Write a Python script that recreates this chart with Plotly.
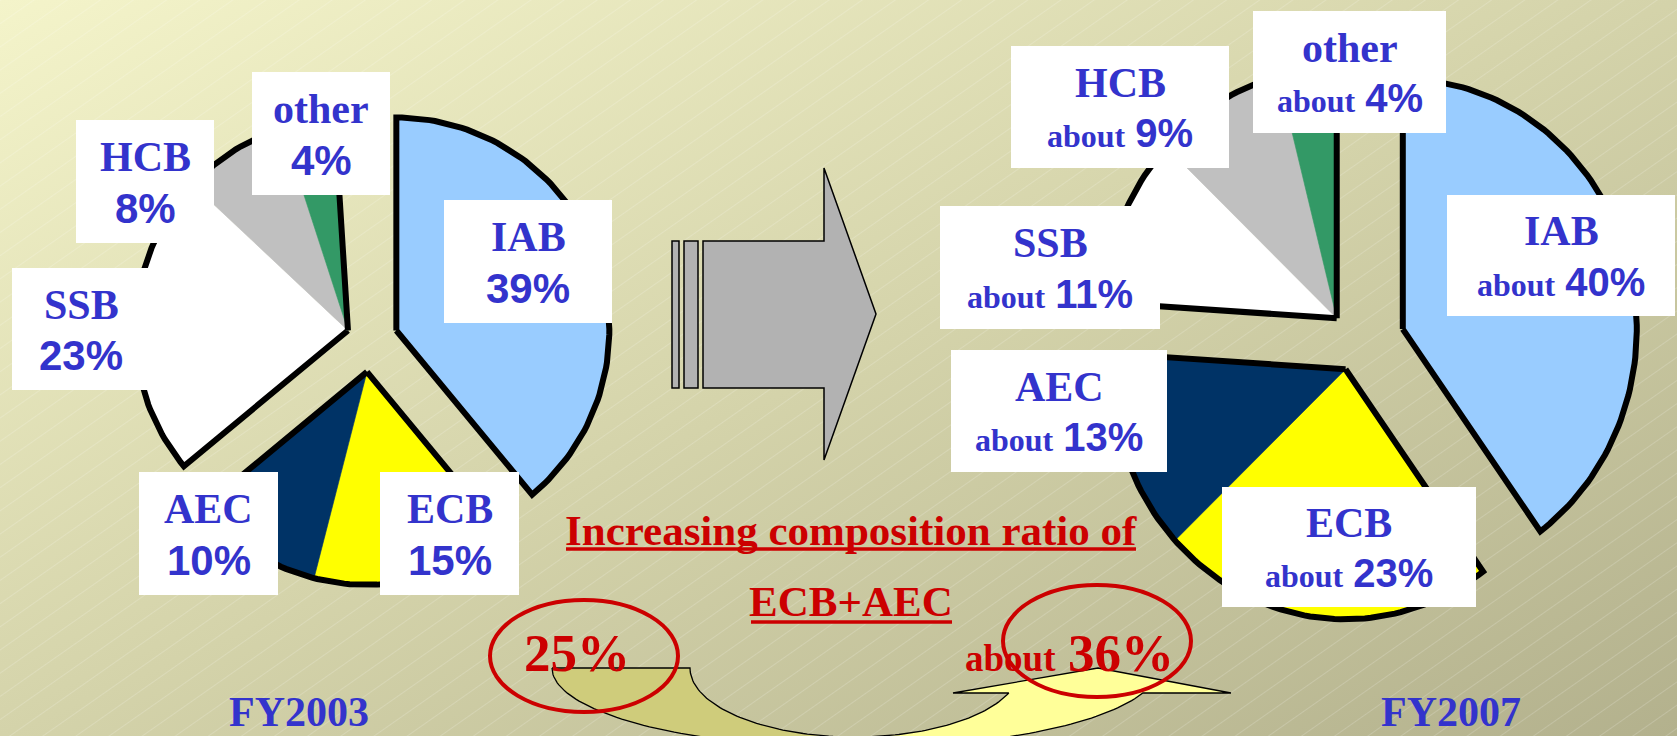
import base64
import numpy as np
import plotly.graph_objects as go

W, H = 1677, 736

# ---- data -------------------------------------------------------------
segments = ["IAB", "ECB", "AEC", "SSB", "HCB", "other"]
seg_colors = ["#99ccff", "#ffff00", "#003366", "#ffffff", "#c0c0c0", "#339966"]
share_fy2003 = [39, 15, 10, 23, 8, 4]
share_fy2007 = [40, 23, 13, 11, 9, 4]
years = ["FY2003", "FY2007"]
value_prefix = ["", "about "]
# slices that are pulled out of the pie together
explode_groups = [[0], [1, 2], [3, 4, 5]]
combined_names = ["ECB", "AEC"]

# ---- layout constants (pixel space) ----------------------------------
BLUE = "#3333cc"
RED = "#cc0000"
SERIF = "Liberation Serif"
SANS = "Liberation Sans"

pie_layout = [
    dict(cx=370, cy=340, rx=213, ry=213, pulls=[28, 32, 24]),
    dict(cx=1360, cy=343, rx=234, ry=250, pulls=[45, 30, 34]),
]
label_boxes = [
    [(444, 200, 612, 323), (380, 472, 519, 595), (139, 472, 278, 595),
     (12, 268, 150, 390), (76, 120, 214, 243), (252, 72, 390, 195)],
    [(1447, 195, 1675, 316), (1222, 487, 1476, 607), (951, 350, 1167, 472),
     (940, 206, 1160, 329), (1011, 46, 1229, 168), (1253, 11, 1446, 133)],
]
year_pos = [(299, 712), (1451, 712)]

fig = go.Figure()

# ---- background: diagonal gradient with faint hatching ----------------
bg_svg = f"""<svg xmlns='http://www.w3.org/2000/svg' width='{W}' height='{H}'>
<defs>
<linearGradient id='g' x1='0' y1='0' x2='1' y2='1'>
<stop offset='0' stop-color='#f4f4ca'/>
<stop offset='0.5' stop-color='#d4d3aa'/>
<stop offset='1' stop-color='#b3b18d'/>
</linearGradient>
<pattern id='h' width='19' height='19' patternUnits='userSpaceOnUse' patternTransform='rotate(55)'>
<line x1='0' y1='0' x2='0' y2='19' stroke='#ffffff' stroke-opacity='0.35' stroke-width='1'/>
</pattern>
</defs>
<rect width='{W}' height='{H}' fill='url(#g)'/>
<rect width='{W}' height='{H}' fill='url(#h)'/>
</svg>"""
bg_uri = "data:image/svg+xml;base64," + base64.b64encode(bg_svg.encode()).decode()


def arc_points(cx, cy, rx, ry, a0, a1):
    """Points along an elliptical arc, angles in degrees clockwise from 12 o'clock."""
    n = max(int(abs(a1 - a0) / 1.5) + 2, 3)
    t = np.radians(np.linspace(a0, a1, n))
    return cx + rx * np.sin(t), cy - ry * np.cos(t)


def wedge(cx, cy, rx, ry, a0, a1):
    ax, ay = arc_points(cx, cy, rx, ry, a0, a1)
    return (np.concatenate([[cx], ax, [cx]]), np.concatenate([[cy], ay, [cy]]))


# ---- exploded pies ----------------------------------------------------
for values, geo in zip([share_fy2003, share_fy2007], pie_layout):
    ends = np.cumsum(values) / 100.0 * 360.0
    starts = ends - np.asarray(values) / 100.0 * 360.0
    outlines = []
    for grp, pull in zip(explode_groups, geo["pulls"]):
        g0, g1 = starts[grp[0]], ends[grp[-1]]
        mid = np.radians((g0 + g1) / 2)
        gx = geo["cx"] + pull * np.sin(mid)
        gy = geo["cy"] - pull * np.cos(mid)
        for i in grp:
            xs, ys = wedge(gx, gy, geo["rx"], geo["ry"], starts[i], ends[i])
            fig.add_trace(go.Scatter(
                x=xs, y=ys, mode="lines", fill="toself",
                fillcolor=seg_colors[i], line=dict(color=seg_colors[i], width=0.6),
                hoverinfo="skip", name=segments[i]))
        outlines.append(wedge(gx, gy, geo["rx"], geo["ry"], g0, g1))
    for xs, ys in outlines:
        fig.add_trace(go.Scatter(
            x=xs, y=ys, mode="lines", line=dict(color="black", width=6),
            hoverinfo="skip"))

# ---- curved "up" arrow under the composition text ---------------------
ccx, ccy = 855, 668
orx, ory, irx, iry = 303, 80, 165, 69


def band(t0, t1):
    t = np.radians(np.linspace(t0, t1, 60))
    ox, oy = ccx + orx * np.cos(t), ccy + ory * np.sin(t)
    tb = t[::-1]
    ix, iy = ccx + irx * np.cos(tb), ccy + iry * np.sin(tb)
    return np.concatenate([ox, ix, ox[:1]]), np.concatenate([oy, iy, oy[:1]])


bx, by = band(180, 90)
fig.add_trace(go.Scatter(x=bx, y=by, mode="lines", fill="toself", fillcolor="#cfcc7b",
                         line=dict(color="black", width=1.3), hoverinfo="skip"))
t_out = np.degrees(np.arcsin(25 / ory))
t_in = np.degrees(np.arcsin(25 / iry))
t = np.radians(np.linspace(90, t_out, 50))
ox, oy = ccx + orx * np.cos(t), ccy + ory * np.sin(t)
t2 = np.radians(np.linspace(t_in, 90, 50))
ix, iy = ccx + irx * np.cos(t2), ccy + iry * np.sin(t2)
hx = [ox[-1], 1231, 1098, 953, ix[0]]
hy = [oy[-1], 693, 668, 693, iy[0]]
fig.add_trace(go.Scatter(
    x=np.concatenate([ox, hx, ix, ox[:1]]), y=np.concatenate([oy, hy, iy, oy[:1]]),
    mode="lines", fill="toself", fillcolor="#ffff99",
    line=dict(color="black", width=1.3), hoverinfo="skip"))

shapes = []
# ---- block arrow between the two pies ---------------------------------
arrow_style = dict(type="path", fillcolor="#b2b2b2", line=dict(color="black", width=1.5), layer="above")
shapes.append(dict(path="M672,241 L679,241 L679,388 L672,388 Z", **arrow_style))
shapes.append(dict(path="M684,241 L698,241 L698,388 L684,388 Z", **arrow_style))
shapes.append(dict(path="M703,241 L824,241 L824,168 L876,314 L824,460 L824,388 L703,388 Z", **arrow_style))

annotations = []

# ---- label boxes ------------------------------------------------------
for k, values in enumerate([share_fy2003, share_fy2007]):
    for i, (name, v) in enumerate(zip(segments, values)):
        x0, y0, x1, y1 = label_boxes[k][i]
        shapes.append(dict(type="rect", x0=x0, x1=x1, y0=y0, y1=y1,
                           fillcolor="white", line=dict(width=0), layer="above"))
        xc = (x0 + x1) / 2
        h = y1 - y0
        annotations.append(dict(x=xc, y=y0 + 0.30 * h, text=f"<b>{name}</b>",
                                showarrow=False, xanchor="center", yanchor="middle",
                                font=dict(family=SERIF, size=42, color=BLUE)))
        if value_prefix[k]:
            txt = (f"<b><span style=\"font-size:32px\">{value_prefix[k].strip()}</span> "
                   f"<span style=\"font-family:{SANS}\">{v}%</span></b>")
            fsize = 40
        else:
            txt = f"<b><span style=\"font-family:{SANS}\">{v}%</span></b>"
            fsize = 42
        annotations.append(dict(x=xc, y=y0 + 0.72 * h, text=txt,
                                showarrow=False, xanchor="center", yanchor="middle",
                                font=dict(family=SERIF, size=fsize, color=BLUE)))

# ---- composition ratio note ------------------------------------------
sum03 = sum(share_fy2003[segments.index(n)] for n in combined_names)
sum07 = sum(share_fy2007[segments.index(n)] for n in combined_names)
annotations.append(dict(x=851, y=530, text="<b>Increasing composition ratio of</b>",
                        showarrow=False, xanchor="center", yanchor="middle",
                        font=dict(family=SERIF, size=43, color=RED)))
annotations.append(dict(x=851, y=601, text="<b>" + "+".join(combined_names) + "</b>",
                        showarrow=False, xanchor="center", yanchor="middle",
                        font=dict(family=SERIF, size=43, color=RED)))
shapes.append(dict(type="line", x0=566, x1=1136, y0=549, y1=549,
                   line=dict(color=RED, width=3.5), layer="above"))
shapes.append(dict(type="line", x0=751, x1=952, y0=622, y1=622,
                   line=dict(color=RED, width=3.5), layer="above"))

annotations.append(dict(x=577, y=653, text=f"<b>{sum03}%</b>", showarrow=False,
                        xanchor="center", yanchor="middle",
                        font=dict(family=SERIF, size=53, color=RED)))
annotations.append(dict(x=1058, y=658, text="<b>about</b>", showarrow=False,
                        xanchor="right", yanchor="middle",
                        font=dict(family=SERIF, size=37, color=RED)))
annotations.append(dict(x=1066, y=653, text=f"<b>{sum07}%</b>", showarrow=False,
                        xanchor="left", yanchor="middle",
                        font=dict(family=SERIF, size=53, color=RED)))

shapes.append(dict(type="circle", x0=490, x1=678, y0=600, y1=712,
                   line=dict(color=RED, width=4), layer="above"))
shapes.append(dict(type="circle", x0=1003, x1=1191, y0=585, y1=697,
                   line=dict(color=RED, width=4), layer="above"))

# ---- year captions ----------------------------------------------------
for (x, y), yr in zip(year_pos, years):
    annotations.append(dict(x=x, y=y, text=f"<b>{yr}</b>", showarrow=False,
                            xanchor="center", yanchor="middle",
                            font=dict(family=SERIF, size=42, color=BLUE)))

fig.update_layout(
    width=W, height=H, margin=dict(l=0, r=0, t=0, b=0),
    paper_bgcolor="#d4d3aa", plot_bgcolor="rgba(0,0,0,0)",
    showlegend=False,
    xaxis=dict(range=[0, W], visible=False, fixedrange=True),
    yaxis=dict(range=[H, 0], visible=False, fixedrange=True),
    images=[dict(source=bg_uri, xref="paper", yref="paper", x=0, y=1,
                 sizex=1, sizey=1, sizing="stretch", layer="below",
                 xanchor="left", yanchor="top")],
    shapes=shapes, annotations=annotations,
)

fig.write_html("out.html")
